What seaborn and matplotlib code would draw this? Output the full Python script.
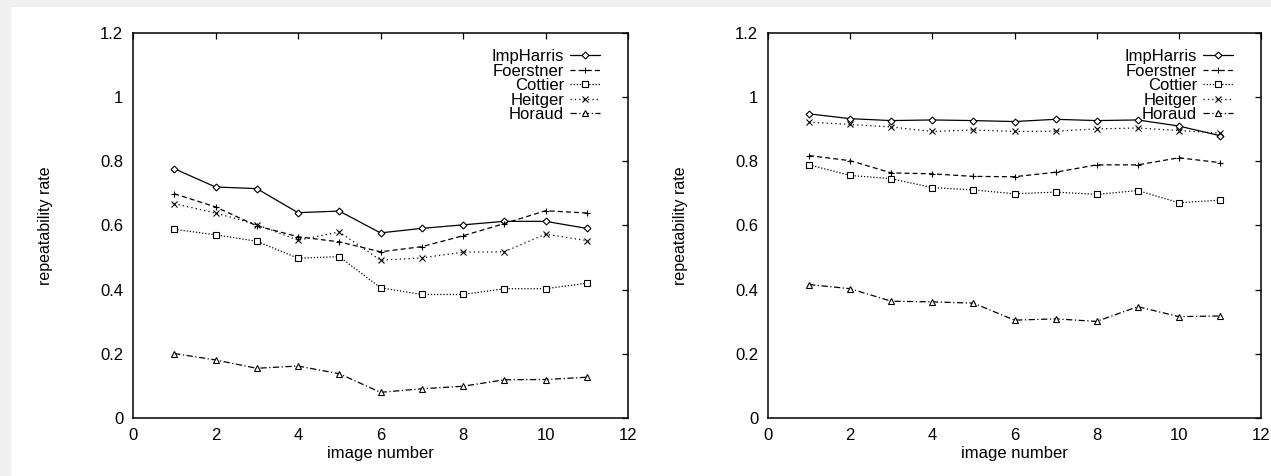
import matplotlib
matplotlib.use("Agg")
import matplotlib.pyplot as plt
import matplotlib.patches as mpatches
import pandas as pd
import seaborn as sns

image_number = list(range(1, 12))
detectors = ["ImpHarris", "Foerstner", "Cottier", "Heitger", "Horaud"]

# left panel
left_impharris = [0.777, 0.720, 0.715, 0.640, 0.645, 0.577, 0.591, 0.602, 0.613, 0.613, 0.591]
left_foerstner = [0.699, 0.658, 0.599, 0.565, 0.549, 0.518, 0.534, 0.568, 0.606, 0.646, 0.639]
left_cottier = [0.588, 0.571, 0.551, 0.498, 0.503, 0.406, 0.385, 0.385, 0.403, 0.403, 0.420]
left_heitger = [0.668, 0.639, 0.603, 0.554, 0.580, 0.492, 0.499, 0.517, 0.518, 0.573, 0.553]
left_horaud = [0.201, 0.181, 0.155, 0.162, 0.138, 0.080, 0.091, 0.099, 0.119, 0.120, 0.127]

# right panel
right_impharris = [0.948, 0.933, 0.927, 0.929, 0.927, 0.924, 0.931, 0.927, 0.929, 0.910, 0.880]
right_foerstner = [0.818, 0.802, 0.764, 0.761, 0.753, 0.752, 0.766, 0.789, 0.789, 0.811, 0.796]
right_cottier = [0.789, 0.756, 0.746, 0.718, 0.711, 0.699, 0.704, 0.697, 0.709, 0.671, 0.679]
right_heitger = [0.922, 0.915, 0.907, 0.893, 0.898, 0.893, 0.894, 0.901, 0.904, 0.896, 0.888]
right_horaud = [0.416, 0.403, 0.364, 0.362, 0.358, 0.305, 0.309, 0.301, 0.347, 0.316, 0.318]

styles = {
    "ImpHarris": dict(ls="-", marker="D", ms=3.5, mfc="white"),
    "Foerstner": dict(ls=(0, (4, 2.5)), marker="+", ms=5, mfc="black"),
    "Cottier": dict(ls=(0, (1, 1.5)), marker="s", ms=4, mfc="white"),
    "Heitger": dict(ls=(0, (1, 2.5)), marker="x", ms=4.5, mfc="black"),
    "Horaud": dict(ls=(0, (5, 2, 1, 2)), marker="^", ms=4, mfc="white"),
}


def to_long(series):
    rows = []
    for name, vals in zip(detectors, series):
        for x, v in zip(image_number, vals):
            rows.append({"image": x, "rate": v, "detector": name})
    return pd.DataFrame(rows)


sns.set_theme(style="white")
plt.rcParams["font.family"] = ["Liberation Sans", "DejaVu Sans"]
plt.rcParams["xtick.direction"] = "in"
plt.rcParams["ytick.direction"] = "in"

fig = plt.figure(figsize=(12.71, 4.76), dpi=100, facecolor="#f0f0f0")
fig.patches.append(mpatches.Rectangle((11 / 1271, 0), 1, (476 - 7) / 476,
                                      transform=fig.transFigure, facecolor="white",
                                      edgecolor="none", zorder=-10))

ax_l = fig.add_axes([133 / 1271, 58 / 476, 495 / 1271, 385 / 476])
ax_r = fig.add_axes([768 / 1271, 58 / 476, 493 / 1271, 385 / 476])

panels = [
    (ax_l, [left_impharris, left_foerstner, left_cottier, left_heitger, left_horaud]),
    (ax_r, [right_impharris, right_foerstner, right_cottier, right_heitger, right_horaud]),
]

for ax, series in panels:
    ax.set_facecolor("none")
    df = to_long(series)
    for name in detectors:
        st = styles[name]
        sub = df[df["detector"] == name]
        sns.lineplot(data=sub, x="image", y="rate", ax=ax, color="black",
                     linewidth=0.9, linestyle=st["ls"], marker=st["marker"],
                     markersize=st["ms"], markerfacecolor=st["mfc"],
                     markeredgecolor="black", markeredgewidth=0.8, label=name)
    ax.set_xlim(0, 12)
    ax.set_ylim(0, 1.2)
    ax.set_xticks(range(0, 13, 2))
    ax.set_yticks([0, 0.2, 0.4, 0.6, 0.8, 1.0, 1.2])
    ax.set_yticklabels(["0", "0.2", "0.4", "0.6", "0.8", "1", "1.2"])
    ax.tick_params(axis="both", labelsize=12, colors="black", length=4, width=0.9,
                   top=True, right=True, pad=7)
    for sp in ax.spines.values():
        sp.set_color("black")
        sp.set_linewidth(1.1)
    ax.set_xlabel("image number", fontsize=12, color="black")
    ax.set_ylabel("repeatability rate", fontsize=11.5, color="black")
    ax.xaxis.set_label_coords(0.5, -0.072)
    ax.yaxis.set_label_coords(-0.162, 0.5)
    leg = ax.legend(loc="upper right", bbox_to_anchor=(0.96, 0.98), frameon=False,
                    markerfirst=False, fontsize=12, handlelength=1.8,
                    handletextpad=0.35, labelspacing=-0.03, borderpad=0)
    for t in leg.get_texts():
        t.set_color("black")

fig.savefig("out.png", dpi=100, facecolor=fig.get_facecolor())
